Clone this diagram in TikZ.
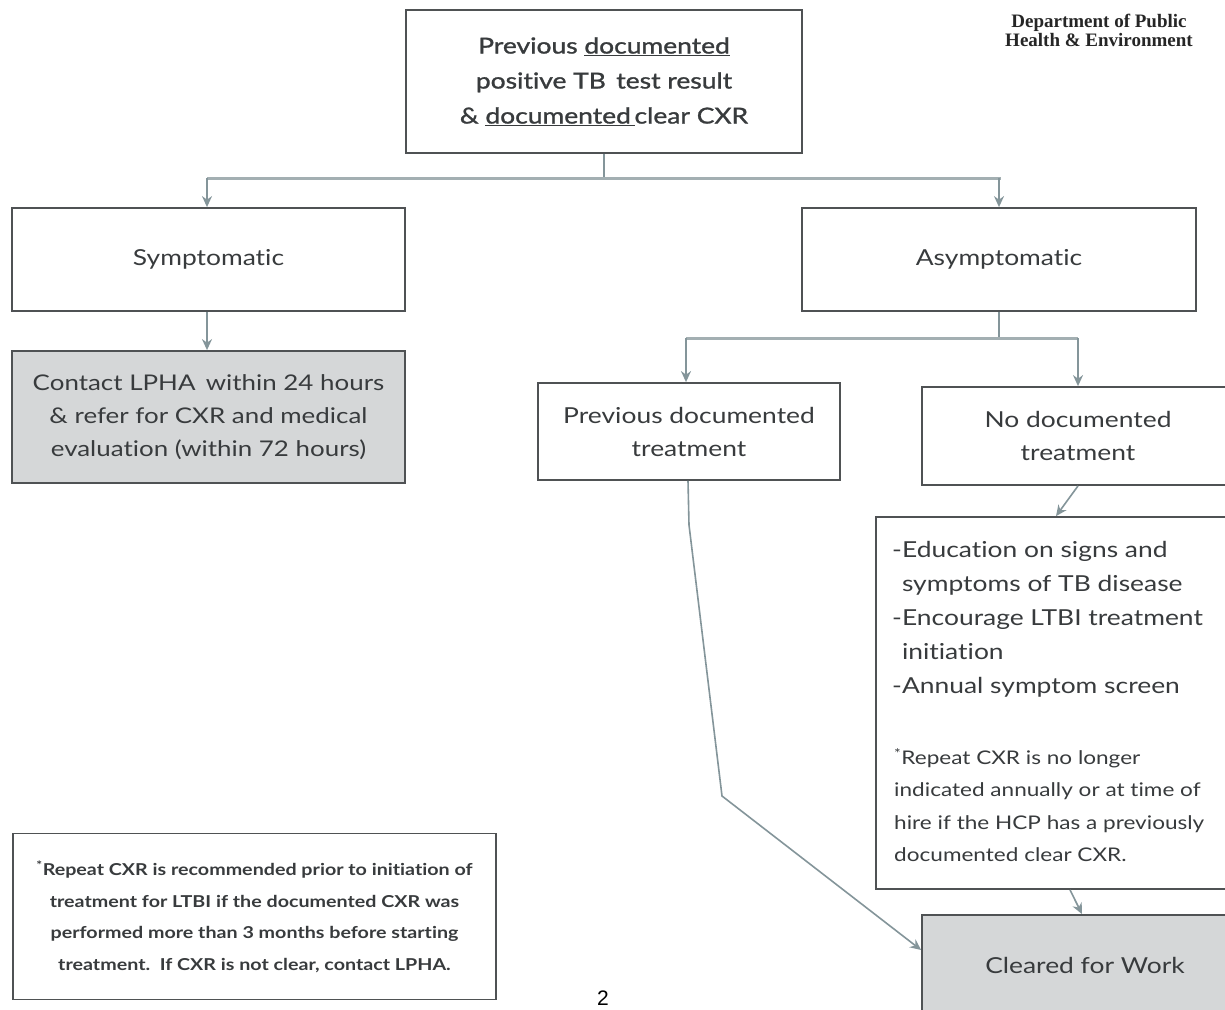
\documentclass[tikz,border=0pt]{standalone}
\usepackage{fontspec}
\setmainfont{Lato}[FakeStretch=1.2, Ligatures=NoCommon]
\newfontfamily\semib{Lato}[FakeStretch=1.2, FakeBold=1.2, Ligatures=NoCommon]
\newfontfamily\hdrfont{Liberation Serif}
\newfontfamily\numfont{Liberation Sans}
\usetikzlibrary{arrows.meta}
\definecolor{boxline}{HTML}{4F5254}
\definecolor{conn}{HTML}{84959A}
\definecolor{barc}{HTML}{A3AFB2}
\definecolor{grayfill}{HTML}{D5D7D8}
\definecolor{txt}{HTML}{383B3D}
\tikzset{
  box/.style={draw=boxline, line width=1.8pt, fill=white, text=txt, align=center, inner sep=0pt},
  graybox/.style={box, fill=grayfill},
  link/.style={draw=conn, line width=1.6pt},
  bar/.style={draw=barc, line width=3pt},
  arr/.style={link, -{Stealth[length=11pt,width=10pt]}},
  bigtxt/.style={font=\fontsize{22}{35}\selectfont},
}
\begin{document}
\begin{tikzpicture}[x=1pt,y=-1pt]
\useasboundingbox (0,0) rectangle (1225,1009);
\clip (0,0) rectangle (1225,1009);
\fill[white] (0,0) rectangle (1225,1009);

% header
\node[font=\hdrfont\bfseries\fontsize{19}{19}\selectfont, text=black!85, align=center] (hdr) at (1099,30)
  {Department of Public\\Health \& Environment};

% boxes
\node[box, minimum width=396pt, minimum height=143pt, font=\semib\fontsize{22}{35}\selectfont] (top) at (604,81.5)
  {Previous \underline{documented}\\positive TB\, test result\\\& \underline{documented\,}clear CXR};
\node[box, minimum width=393pt, minimum height=103pt, bigtxt] (sym) at (208.5,259.5) {Symptomatic};
\node[box, minimum width=394pt, minimum height=103pt, bigtxt] (asym) at (999,259.5) {Asymptomatic};
\node[graybox, minimum width=393pt, minimum height=132pt, font=\fontsize{21.6}{33}\selectfont] (contact) at (208.5,417)
  {Contact LPHA\, within 24 hours\\\& refer for CXR and medical\\evaluation (within 72 hours)};
\node[box, minimum width=302pt, minimum height=97pt, font=\fontsize{22}{33}\selectfont] (prevt) at (689,431.5)
  {Previous documented\\treatment};
\node[box, minimum width=312pt, minimum height=98pt, font=\fontsize{22}{33}\selectfont] (nodoc) at (1078,436)
  {No documented\\treatment};
\node[box, minimum width=360pt, minimum height=372pt] (edu) at (1056,703) {};
\node[anchor=north west, text=txt, align=left, inner sep=0pt, font=\fontsize{22}{34}\selectfont] (edulist) at (892,541)
  {-Education on signs and\\\phantom{-}symptoms of TB disease\\-Encourage LTBI treatment\\\phantom{-}initiation\\-Annual symptom screen};
\node[anchor=north west, text=txt, align=left, inner sep=0pt, font=\fontsize{18.8}{32.5}\selectfont] (edunote) at (894,748)
  {\textsuperscript{*}Repeat CXR is no longer\\indicated annually or at time of\\hire if the HCP has a previously\\documented clear CXR.};
\node[graybox, minimum width=326pt, minimum height=100pt, bigtxt] (cleared) at (1085,965) {Cleared for Work};
\node[box, minimum width=483pt, minimum height=166pt, font=\bfseries\fontsize{16.4}{31.5}\selectfont] (note) at (254.5,916.5)
  {\textsuperscript{*}Repeat CXR is recommended prior to initiation of\\treatment for LTBI if the documented CXR was\\performed more than 3 months before starting\\treatment.\ \ If CXR is not clear, contact LPHA.};

\node[font=\numfont\fontsize{21}{22}\selectfont, text=black] (pg) at (603,998) {2};

% connectors
\coordinate (j1) at (604,178);
\draw[link] (top.south) -- (j1);
\draw[bar] ([xshift=-1.5pt]sym.north |- j1) -- ([xshift=1.5pt]asym.north |- j1);
\draw[arr] ([xshift=-1.5pt]sym.north |- j1) -- ([xshift=-1.5pt]sym.north);
\draw[arr] (asym.north |- j1) -- (asym.north);
\draw[arr] ([xshift=-1.5pt]sym.south) -- ([xshift=-1.5pt]contact.north);

\coordinate (j2) at (999,338);
\draw[link] (asym.south) -- (j2);
\draw[bar] ([xshift=-3pt]prevt.north |- j2) -- (nodoc.north |- j2);
\draw[arr] ([xshift=-3pt]prevt.north |- j2) -- ([xshift=-3pt]prevt.north);
\draw[arr] (nodoc.north |- j2) -- (nodoc.north);

\draw[arr] (nodoc.south) -- (edu.north);
\draw[arr] ([xshift=14pt]edu.south) -- ([xshift=-3pt]cleared.north);

\coordinate (b1) at (689,525);
\coordinate (b2) at (722,796);
\draw[arr] ([xshift=-1pt]prevt.south) -- (b1) -- (b2) -- ([yshift=15pt]cleared.west);
\end{tikzpicture}
\end{document}
